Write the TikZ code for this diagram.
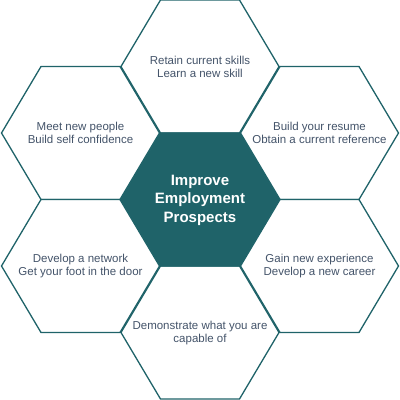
\documentclass[tikz,border=0pt]{standalone}
\usepackage{fontspec}
\setmainfont{Liberation Sans}
\definecolor{teal1}{HTML}{1F6369}
\definecolor{txt}{HTML}{44546A}
\begin{document}
\begin{tikzpicture}[x=1pt,y=-1pt,
  hexline/.style={draw=teal1,line width=1.3pt,line join=miter},
  lbl/.style={text=txt,align=center,font=\fontsize{11.5}{13.5}\selectfont,inner sep=0pt},
  mainlbl/.style={text=white,align=center,font=\fontsize{15}{18.5}\selectfont\bfseries,inner sep=0pt}]
\useasboundingbox (0,0) rectangle (400,400);
\def\R{79}\def\H{66.5}\def\Hx{39.5}
% hexagons: name/centre
\foreach \n/\cx/\cy in {top/200/66.5,ul/80.5/133,ur/319.5/133,ll/80.5/266,lr/319.5/266,bot/200/332.5}{
  \draw[hexline,fill=white] (\cx-\R,\cy) -- (\cx-\Hx,\cy-\H) -- (\cx+\Hx,\cy-\H) -- (\cx+\R,\cy)
     -- (\cx+\Hx,\cy+\H) -- (\cx-\Hx,\cy+\H) -- cycle;
}
\draw[hexline,fill=teal1] (200-\R,199.5) -- (200-\Hx,199.5-\H) -- (200+\Hx,199.5-\H) -- (200+\R,199.5)
     -- (200+\Hx,199.5+\H) -- (200-\Hx,199.5+\H) -- cycle;
\node[mainlbl] (center) at (200,200) {Improve\\Employment\\Prospects};
\node[lbl] (top) at (200,67) {Retain current skills\\Learn a new skill};
\node[lbl] (ul) at (80.5,133) {Meet new people\\Build self confidence};
\node[lbl] (ur) at (319.5,133) {Build your resume\\Obtain a current reference};
\node[lbl] (ll) at (80.5,266) {Develop a network\\Get your foot in the door};
\node[lbl] (lr) at (319.5,266) {Gain new experience\\Develop a new career};
\node[lbl] (bot) at (200,333) {Demonstrate what you are\\capable of};
\end{tikzpicture}
\end{document}
